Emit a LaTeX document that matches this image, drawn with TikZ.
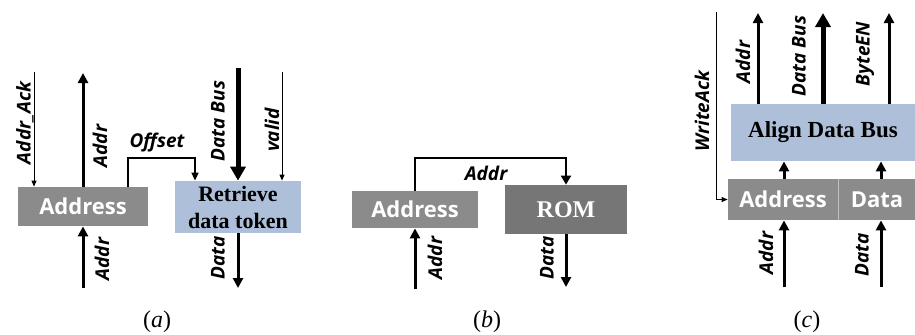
\documentclass[tikz,border=0pt]{standalone}
\usepackage{fontspec}
\setmainfont{Liberation Serif}
\newfontfamily\sigfont{Open Sans}
\usetikzlibrary{arrows.meta}
\definecolor{boxgray}{RGB}{139,139,139}
\definecolor{romgray}{RGB}{118,118,118}
\definecolor{boxblue}{RGB}{173,191,217}
\tikzset{
  unitbox/.style={fill=boxgray, inner sep=0pt, text=white,
    font=\sigfont\bfseries\fontsize{11}{13}\selectfont},
  stagebox/.style={fill=boxblue, inner sep=0pt, align=center,
    font=\bfseries\fontsize{11}{13.5}\selectfont},
  sig/.style={inner sep=0pt, font=\sigfont\bfseries\itshape\fontsize{9.5}{11}\selectfont},
  sigv/.style={sig, rotate=90},
  wide arrow/.style={line width=1.5pt, -{Triangle[length=5pt,width=5pt]}},
  bus arrow/.style={line width=2.5pt, -{Triangle[length=7pt,width=7.5pt]}},
  thin arrow/.style={line width=0.5pt, -{Triangle[length=3pt,width=2.5pt]}},
  link arrow/.style={line width=0.8pt, -{Triangle[length=4pt,width=3.5pt]}},
  caption/.style={inner sep=0pt, font=\fontsize{12}{14}\selectfont}
}

\begin{document}
\begin{tikzpicture}[x=0.5pt,y=-0.5pt]
    \useasboundingbox (0,0) rectangle (915,334);
    % (a)
    \node[unitbox, minimum width=65pt, minimum height=19.5pt] (addrA) at (83,206.5) {Address};
    \node[stagebox, minimum width=63pt, minimum height=26pt] (retr) at (238,207) {Retrieve\\data token};
    \coordinate (ackA) at (34,72);
    \coordinate (outAddrA) at (83,73);
    \coordinate (inAddrA) at (83,288);
    \coordinate (offL) at (128,158);
    \coordinate (offR) at (195,158);
    \coordinate (busA) at (238,68);
    \coordinate (validA) at (282,72);
    \coordinate (outDataA) at (238,288);
    \draw[thin arrow] (ackA) -- (ackA |- addrA.north);
    \draw[wide arrow] (addrA.north) -- (outAddrA);
    \draw[wide arrow] (inAddrA) -- (addrA.south);
    \draw[link arrow] (offL |- addrA.north) -- (offL) -- (offR) -- (offR |- retr.north);
    \draw[bus arrow] (busA) -- (retr.north);
    \draw[thin arrow] (validA) -- (validA |- retr.north);
    \draw[wide arrow] (retr.south) -- (outDataA);
    \node[sigv] (lblAck) at (25,123) {Addr\_Ack};
    \node[sigv] (lblAddrA) at (100,146) {Addr};
    \node[sig] (lblOff) at (157,143) {Offset};
    \node[sigv] (lblBusA) at (218,121) {Data Bus};
    \node[sigv] (lblValid) at (272,130) {valid};
    \node[sigv] (lblInA) at (102,259) {Addr};
    \node[sigv] (lblDataA) at (218,258) {Data};
    \node[caption] (capA) at (157,322) {(\textit{a})};
    % (b)
    \node[unitbox, minimum width=63pt, minimum height=18.5pt] (addrB) at (415,209.5) {Address};
    \node[fill=romgray, text=white, inner sep=0pt, minimum width=61pt, minimum height=24.5pt,
      font=\bfseries\fontsize{12}{14}\selectfont] (rom) at (566,209.5) {ROM};
    \coordinate (romL) at (415,158);
    \coordinate (romR) at (566,158);
    \coordinate (inAddrB) at (415,289);
    \coordinate (outDataB) at (566,287);
    \draw[line width=1pt, -{Triangle[length=4.5pt,width=5pt]}] (addrB.north) -- (romL) -- (romR) -- (rom.north);
    \draw[wide arrow] (inAddrB) -- (addrB.south);
    \draw[wide arrow] (rom.south) -- (outDataB);
    \node[sig] (lblAddrB) at (486,173) {Addr};
    \node[sigv] (lblInB) at (435,258) {Addr};
    \node[sigv] (lblDataB) at (547,258) {Data};
    \node[caption] (capB) at (487,322) {(\textit{b})};
    % (c)
    \node[stagebox, minimum width=92pt, minimum height=28.5pt, font=\bfseries\fontsize{11.5}{14}\selectfont]
      (align) at (823,132.5) {Align Data Bus};
    \node[unitbox, minimum width=55pt, minimum height=20.5pt] (addrC) at (783,199.5) {Address};
    \node[unitbox, minimum width=38pt, minimum height=20.5pt] (dataC) at (877,199.5) {Data};
    \draw[black!25, line width=0.5pt] (dataC.north west) -- (dataC.south west);
    \coordinate (wack) at (716,12);
    \coordinate (outAddrC) at (758,13);
    \coordinate (outBusC) at (823,13);
    \coordinate (outByte) at (889,13);
    \coordinate (inAddrC) at (784,287);
    \coordinate (inDataC) at (881,287);
    \draw[thin arrow] (wack) |- (addrC.west);
    \draw[wide arrow] (outAddrC |- align.north) -- (outAddrC);
    \draw[bus arrow] (align.north) -- (outBusC);
    \draw[wide arrow] (outByte |- align.north) -- (outByte);
    \draw[wide arrow] (inAddrC |- addrC.north) -- (inAddrC |- align.south);
    \draw[wide arrow] (inDataC |- dataC.north) -- (inDataC |- align.south);
    \draw[wide arrow] (inAddrC) -- (inAddrC |- addrC.south);
    \draw[wide arrow] (inDataC) -- (inDataC |- dataC.south);
    \node[sigv] (lblWack) at (702,111) {WriteAck};
    \node[sigv] (lblAddrC) at (743,62) {Addr};
    \node[sigv] (lblBusC) at (799,56) {Data Bus};
    \node[sigv] (lblByte) at (865,54) {ByteEN};
    \node[sigv] (lblInC) at (766,253) {Addr};
    \node[sigv] (lblDataC) at (862,255) {Data};
    \node[caption] (capC) at (807,322) {(\textit{c})};
\end{tikzpicture}
\end{document}
